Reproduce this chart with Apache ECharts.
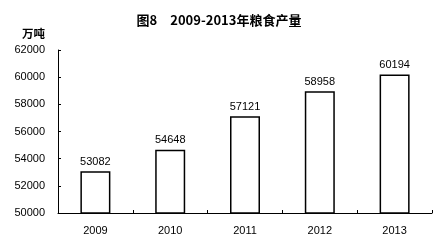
<!DOCTYPE html>
<html><head><meta charset="utf-8">
<script src="https://cdn.jsdelivr.net/npm/echarts@6/dist/echarts.min.js"></script>
<style>html,body{margin:0;padding:0;background:#fff}#c{width:438px;height:247px}</style>
</head><body><div id="c"></div>
<script>
var categories = ['2009','2010','2011','2012','2013'];
var values = [53082, 54648, 57121, 58958, 60194];
var yMin = 50000, yMax = 62000, yStep = 2000;
var chart = echarts.init(document.getElementById('c'), null, {renderer:'canvas'});
chart.setOption({
  animation:false,
  backgroundColor:'#fff',
  title:{text:'图8　2009-2013年粮食产量', left:'center', top:9,
    textStyle:{fontSize:13, fontWeight:'bold', color:'#000', fontFamily:'Noto Sans CJK SC'}},
  graphic:[{type:'text', left:22, top:28, style:{text:'万吨', fontSize:11.5, fontWeight:'bold', fill:'#000', fontFamily:'Noto Sans CJK SC'}}],
  grid:{left:58, right:6, top:50, bottom:34},
  xAxis:{type:'category', data:categories,
    axisLine:{lineStyle:{color:'#000', width:1}},
    axisTick:{show:true, inside:true, length:3, lineStyle:{color:'#000'}},
    axisLabel:{color:'#000', fontSize:11, margin:12, fontFamily:'Liberation Sans'}},
  yAxis:{type:'value', min:yMin, max:yMax, interval:yStep,
    axisLine:{show:true, lineStyle:{color:'#000', width:1}},
    axisTick:{show:true, inside:true, length:3, lineStyle:{color:'#000'}},
    splitLine:{show:false},
    axisLabel:{color:'#000', fontSize:11, margin:13, fontFamily:'Liberation Sans',
      formatter:function(v){return String(v);}}},
  series:[{type:'bar', data:values, barWidth:30,
    itemStyle:{color:'#fff', borderColor:'#000', borderWidth:1.5},
    label:{show:true, position:'top', color:'#000', fontSize:11, distance:4, fontFamily:'Liberation Sans'}}]
});
</script></body></html>
